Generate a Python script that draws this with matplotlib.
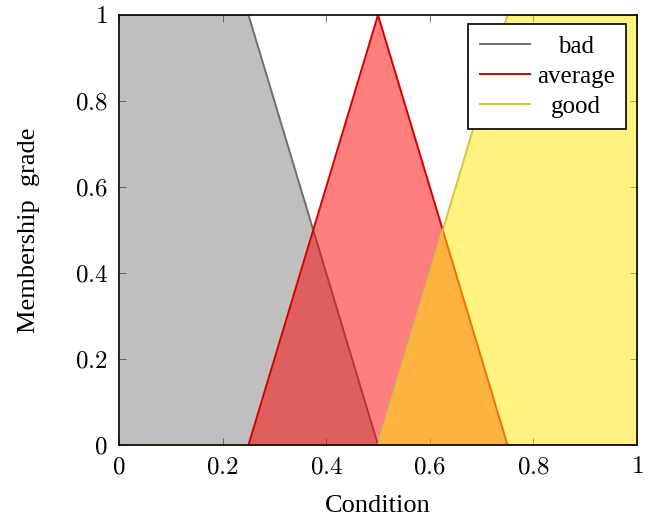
import matplotlib
matplotlib.use('Agg')
import matplotlib.pyplot as plt
from matplotlib.ticker import FuncFormatter

# membership functions (x, y) breakpoints
names = ['bad', 'average', 'good']
bad_x = [0, 0.25, 0.5, 1]
bad_y = [1, 1, 0, 0]
avg_x = [0, 0.25, 0.5, 0.75, 1]
avg_y = [0, 0, 1, 0, 0]
good_x = [0, 0.5, 0.75, 1]
good_y = [0, 0, 1, 1]
ticks = [0, 0.2, 0.4, 0.6, 0.8, 1]

plt.rcParams['font.family'] = ['Liberation Serif', 'DejaVu Serif']
plt.rcParams['mathtext.fontset'] = 'cm'

fig = plt.figure(figsize=(6.57, 5.17), dpi=100)
ax = fig.add_axes([0.1811, 0.1393, 0.7885, 0.8317])

series = [
    (bad_x, bad_y, '#808080', '#6e6e6e'),
    (avg_x, avg_y, '#ff0000', '#d40000'),
    (good_x, good_y, '#ffe600', '#d6c43c'),
]
z = 1
for (xs, ys, fc, lc), name in zip(series, names):
    ax.fill_between(xs, ys, 0, color=fc, alpha=0.5, lw=0, zorder=z)
    ax.plot(xs, ys, color=lc, lw=1.4, label=name, zorder=z + 1)
    z += 2

ax.set_xlim(0, 1)
ax.set_ylim(0, 1)
ax.set_xticks(ticks)
ax.set_yticks(ticks)
fmt = FuncFormatter(lambda v, p: '$%g$' % v)
ax.xaxis.set_major_formatter(fmt)
ax.yaxis.set_major_formatter(fmt)
ax.tick_params(direction='in', top=True, right=True, length=5, width=0.6,
               labelsize=18, pad=8, color='#555555')
for s in ax.spines.values():
    s.set_linewidth(1.2)
    s.set_zorder(10)

ax.set_xlabel('Condition', fontsize=19, labelpad=12)
ax.set_ylabel('Membership\u2002grade', fontsize=19, labelpad=25)

leg = ax.legend(loc='upper right', fontsize=18, fancybox=False, framealpha=1,
                edgecolor='black', handlelength=2.0, handletextpad=0.3,
                borderpad=0.45, labelspacing=0.3, borderaxespad=0,
                bbox_to_anchor=(0.979, 0.979))
leg.get_frame().set_linewidth(1.2)
leg.set_zorder(20)

# centre the legend entries like pgfplots does
fig.canvas.draw()
r = fig.canvas.get_renderer()
widths = [t.get_window_extent(r).width for t in leg.get_texts()]
wmax = max(widths)
for t, w in zip(leg.get_texts(), widths):
    t.set_x((wmax - w) / 2)

fig.savefig('out.png', dpi=100)
